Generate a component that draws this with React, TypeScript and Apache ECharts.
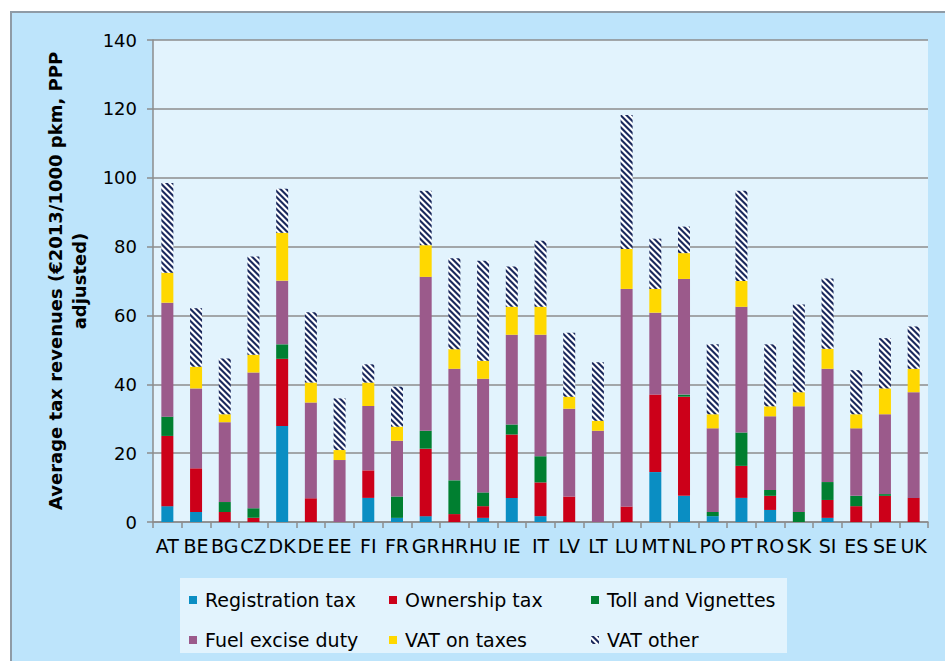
import React, { useEffect, useRef } from "react";
import * as echarts from "echarts";

const categories = ["AT","BE","BG","CZ","DK","DE","EE","FI","FR","GR","HR","HU","IE","IT","LV","LT","LU","MT","NL","PO","PT","RO","SK","SI","ES","SE","UK"];
const registrationTax = [4.6, 2.9, 0, 0, 27.9, 0, 0, 7.0, 1.2, 1.7, 0, 1.2, 7.0, 1.7, 0, 0, 0, 14.5, 7.6, 1.7, 7.0, 3.5, 0, 1.2, 0, 0, 0];
const ownershipTax = [20.4, 12.7, 2.9, 1.2, 19.5, 6.9, 0, 8.0, 0, 19.6, 2.3, 3.4, 18.4, 9.8, 7.4, 0, 4.5, 22.5, 28.8, 0, 9.3, 4.1, 0, 5.2, 4.6, 7.6, 7.0];
const tollVignettes = [5.6, 0, 2.9, 2.8, 4.2, 0, 0, 0, 6.2, 5.2, 9.8, 4.0, 2.9, 7.6, 0, 0, 0, 0, 0.6, 1.2, 9.7, 1.7, 2.9, 5.2, 3.0, 0.5, 0];
const fuelExcise = [33.1, 23.2, 23.2, 39.4, 18.5, 27.8, 18.0, 18.7, 16.2, 44.7, 32.4, 33.0, 26.1, 35.3, 25.5, 26.5, 63.2, 23.8, 33.6, 24.3, 36.5, 21.4, 30.7, 32.9, 19.6, 23.2, 30.7];
const vatOnTaxes = [8.7, 6.3, 2.3, 5.2, 13.9, 5.8, 2.9, 6.8, 4.1, 9.2, 5.7, 5.2, 8.1, 8.1, 3.5, 2.9, 11.6, 6.9, 7.5, 4.1, 7.5, 2.9, 4.1, 5.8, 4.1, 7.5, 6.8];
const vatOther = [26.1, 17.0, 16.2, 28.5, 12.8, 20.4, 15.0, 5.3, 11.6, 15.8, 26.4, 29.1, 11.7, 19.2, 18.6, 17.0, 38.9, 14.6, 7.7, 20.3, 26.2, 18.0, 25.5, 20.4, 12.8, 14.6, 12.3];
const yTicks = { min: 0, max: 140, interval: 20 };

const FONT = "'DejaVu Sans', 'Noto Sans', sans-serif";

function makeHatch(): string {
  const N = 6;
  const S = 4;
  const c = document.createElement("canvas");
  c.width = N;
  c.height = N;
  const ctx = c.getContext("2d")!;
  const img = ctx.createImageData(N, N);
  const navy = [27, 42, 94];
  for (let y = 0; y < N; y++) {
    for (let x = 0; x < N; x++) {
      let cnt = 0;
      for (let sy = 0; sy < S; sy++) {
        for (let sx = 0; sx < S; sx++) {
          const px = x + (sx + 0.5) / S;
          const py = y + (sy + 0.5) / S;
          const d = (((px - py) % N) + N) % N;
          if (d < N / 2) cnt++;
        }
      }
      const f = cnt / (S * S);
      const i = (y * N + x) * 4;
      img.data[i] = Math.round(255 * (1 - f) + navy[0] * f);
      img.data[i + 1] = Math.round(255 * (1 - f) + navy[1] * f);
      img.data[i + 2] = Math.round(255 * (1 - f) + navy[2] * f);
      img.data[i + 3] = 255;
    }
  }
  ctx.putImageData(img, 0, 0);
  return c.toDataURL();
}

export default function App() {
  const ref = useRef<HTMLDivElement>(null);
  useEffect(() => {
    if (!ref.current) return;
    const chart = echarts.init(ref.current, undefined, { renderer: "svg" });
    const hatch = { image: makeHatch(), repeat: "repeat", imageWidth: 6, imageHeight: 6 };
    const mk = (name: string, data: number[], color: any) => ({
      name,
      type: "bar",
      stack: "total",
      barWidth: 12,
      data,
      itemStyle: { color },
      emphasis: { disabled: true },
    });
    const legendBase = {
      orient: "vertical",
      top: 590,
      padding: 0,
      itemWidth: 8,
      itemHeight: 8,
      itemGap: 20,
      icon: "rect",
      selectedMode: false,
      textStyle: { fontSize: 19, color: "#000", fontFamily: FONT, lineHeight: 20, padding: [0, 0, 0, 3] },
    };
    chart.setOption({
      animation: false,
      textStyle: { fontFamily: FONT },
      grid: {
        left: 153,
        top: 40,
        right: 17,
        bottom: 139,
        show: true,
        backgroundColor: "#e2f3fd",
        borderWidth: 0,
      },
      graphic: [
        {
          type: "rect",
          z: 1,
          silent: true,
          shape: { x: 180, y: 578, width: 607, height: 75 },
          style: { fill: "#e2f3fd" },
        },
      ],
      legend: [
        { ...legendBase, left: 189, data: ["Registration tax", "Fuel excise duty"] },
        { ...legendBase, left: 389, data: ["Ownership tax", "VAT on taxes"] },
        { ...legendBase, left: 591, data: ["Toll and Vignettes", "VAT other"] },
      ],
      xAxis: {
        type: "category",
        data: categories,
        axisLine: { lineStyle: { color: "#8c8c8c", width: 1.5 } },
        axisTick: { show: true, length: 6, lineStyle: { color: "#8c8c8c", width: 1.5 } },
        axisLabel: { interval: 0, fontSize: 19, color: "#000", margin: 14, fontFamily: FONT },
      },
      yAxis: {
        type: "value",
        min: yTicks.min,
        max: yTicks.max,
        interval: yTicks.interval,
        name: "Average tax revenues (€2013/1000 pkm, PPP\nadjusted)",
        nameLocation: "middle",
        nameRotate: 90,
        nameGap: 62,
        nameTextStyle: { fontSize: 18, fontWeight: "bold", color: "#000", fontFamily: FONT, lineHeight: 24 },
        axisLine: { show: true, lineStyle: { color: "#8c8c8c", width: 1.5 } },
        axisTick: { show: true, length: 6, lineStyle: { color: "#8c8c8c", width: 1.5 } },
        axisLabel: { fontSize: 18, color: "#000", margin: 16, fontFamily: FONT },
        splitLine: { lineStyle: { color: "#8c8c8c", width: 1.5 } },
      },
      series: [
        mk("Registration tax", registrationTax, "#0a8ec3"),
        mk("Ownership tax", ownershipTax, "#cc0019"),
        mk("Toll and Vignettes", tollVignettes, "#007f30"),
        mk("Fuel excise duty", fuelExcise, "#9b5a8b"),
        mk("VAT on taxes", vatOnTaxes, "#ffd800"),
        mk("VAT other", vatOther, hatch),
      ],
    });
    return () => chart.dispose();
  }, []);
  return (
    <div style={{ position: "fixed", left: 0, top: 0, width: 945, height: 661, background: "#fff", overflow: "hidden" }}>
      <div
        style={{
          position: "absolute",
          left: 10,
          top: 11,
          width: 960,
          height: 700,
          background: "#bde4fb",
          border: "2px solid #8f9ba6",
          boxSizing: "border-box",
        }}
      />
      <div ref={ref} style={{ position: "absolute", left: 0, top: 0, width: 945, height: 661 }} />
    </div>
  );
}
